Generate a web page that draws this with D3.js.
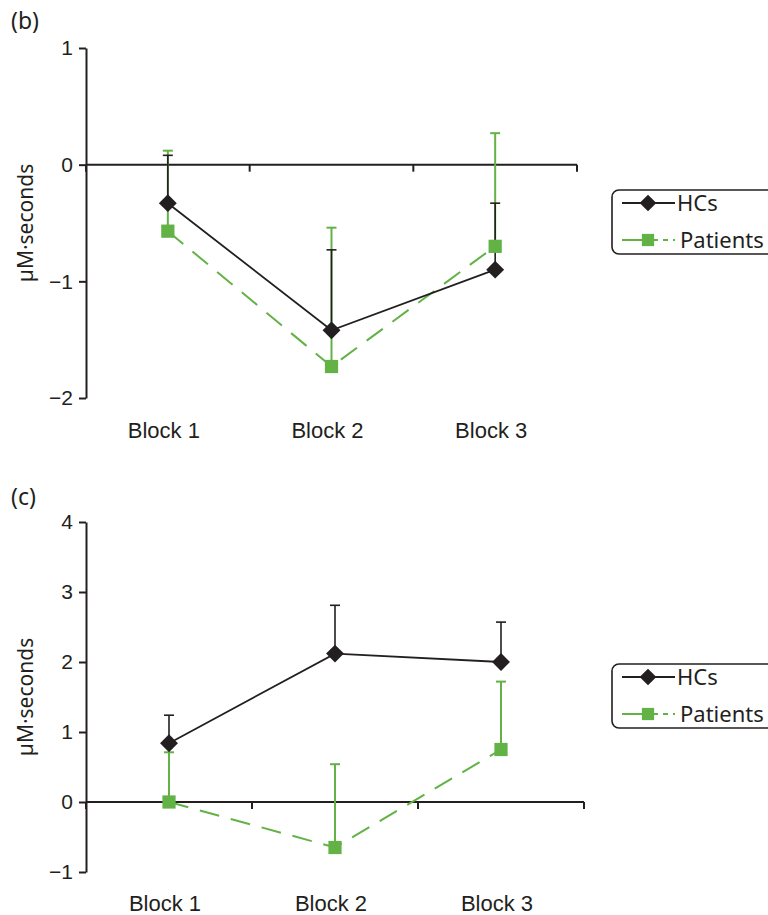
<!DOCTYPE html>
<html>
<head>
<meta charset="utf-8">
<script src="https://cdn.jsdelivr.net/npm/d3@7"></script>
<style>
  body { margin: 0; background: #fff; }
  svg { display: block; font-family: "Noto Sans", "Open Sans", sans-serif; }
</style>
</head>
<body>
<script>
// data
var blocks = ["Block 1", "Block 2", "Block 3"];
var seriesNames = ["HCs", "Patients"];

var hcsB = [-0.33, -1.42, -0.90];
var hcsBUpper = [0.08, -0.73, -0.33];
var patB = [-0.57, -1.73, -0.70];
var patBUpper = [0.12, -0.54, 0.27];
var ticksB = [-2, -1, 0, 1];

var hcsC = [0.84, 2.12, 2.00];
var hcsCUpper = [1.24, 2.81, 2.57];
var patC = [0.00, -0.65, 0.75];
var patCUpper = [0.71, 0.54, 1.72];
var ticksC = [-1, 0, 1, 2, 3, 4];

var black = "#231f20", green = "#62b246";
var fs = 21;

var svg = d3.select("body").append("svg").attr("width", 768).attr("height", 915);

function panel(opt) {
  var x = d3.scaleBand().domain(blocks).range([86, opt.xEnd]).padding(0);
  var y = d3.scaleLinear().domain(d3.extent(opt.ticks)).range([opt.yBottom, opt.yTop]);
  var g = svg.append("g");

  g.append("text").attr("x", 11).attr("y", opt.labelY).attr("font-size", 23).attr("fill", black).text(opt.label);

  // y axis
  var ya = g.append("g").attr("transform", "translate(86,0)")
    .call(d3.axisLeft(y).tickValues(opt.ticks).tickFormat(d3.format("d"))
      .tickSize(7).tickSizeOuter(0).tickPadding(6));
  ya.select(".domain").attr("stroke", black).attr("stroke-width", 2);
  ya.selectAll(".tick line").attr("stroke", black).attr("stroke-width", 2);
  ya.selectAll(".tick text").attr("font-size", fs).attr("fill", black).attr("font-family", null);

  // zero line with ticks at block boundaries
  g.append("line").attr("x1", 86).attr("x2", opt.xEnd).attr("y1", y(0)).attr("y2", y(0))
    .attr("stroke", black).attr("stroke-width", 2);
  var bounds = blocks.map(function (b) { return x(b); }).concat([opt.xEnd]);
  g.selectAll(".bt").data(bounds).enter().append("line")
    .attr("x1", function (d) { return d; }).attr("x2", function (d) { return d; })
    .attr("y1", y(0)).attr("y2", y(0) + 7).attr("stroke", black).attr("stroke-width", 2);

  // category labels
  var xa = g.append("g").attr("transform", "translate(-4," + opt.catY + ")")
    .call(d3.axisBottom(x).tickSize(0).tickPadding(0));
  xa.select(".domain").remove();
  xa.selectAll(".tick text").attr("font-size", fs + 1).attr("fill", black).attr("font-family", null);

  // y label
  g.append("text")
    .attr("transform", "translate(33," + ((opt.yTop + opt.yBottom) / 2 + 0) + ") rotate(-90)")
    .attr("text-anchor", "middle").attr("font-size", fs).attr("fill", black).text("µM·seconds");

  var cx = function (i) { return x(blocks[i]) + x.bandwidth() / 2; };

  var series = [
    { name: seriesNames[1], vals: opt.pat, upper: opt.patUpper, color: green, dash: "20,12", w: 2, errW: 2 },
    { name: seriesNames[0], vals: opt.hcs, upper: opt.hcsUpper, color: black, dash: null, w: 1.8, errW: 1.6 }
  ];

  // error bars (upper only)
  series.forEach(function (s) {
    var eb = g.append("g");
    s.vals.forEach(function (v, i) {
      eb.append("line").attr("x1", cx(i)).attr("x2", cx(i)).attr("y1", y(v)).attr("y2", y(s.upper[i]))
        .attr("stroke", s.color).attr("stroke-width", s.errW);
      eb.append("line").attr("x1", cx(i) - 5).attr("x2", cx(i) + 5).attr("y1", y(s.upper[i])).attr("y2", y(s.upper[i]))
        .attr("stroke", s.color).attr("stroke-width", s.errW);
    });
  });

  var line = d3.line().x(function (d, i) { return cx(i); }).y(function (d) { return y(d); });
  series.forEach(function (s) {
    g.append("path").datum(s.vals).attr("d", line).attr("fill", "none")
      .attr("stroke", s.color).attr("stroke-width", s.w).attr("stroke-dasharray", s.dash);
  });

  // markers
  var diamond = d3.symbol().type(d3.symbolSquare).size(160);
  var square = d3.symbol().type(d3.symbolSquare).size(175);
  opt.pat.forEach(function (v, i) {
    g.append("path").attr("d", square()).attr("fill", green)
      .attr("transform", "translate(" + cx(i) + "," + y(v) + ")");
  });
  opt.hcs.forEach(function (v, i) {
    g.append("path").attr("d", diamond()).attr("fill", black)
      .attr("transform", "translate(" + cx(i) + "," + y(v) + ") rotate(45)");
  });

  // legend
  var lg = g.append("g").attr("transform", "translate(612," + opt.legY + ")");
  lg.append("rect").attr("x", 0).attr("y", 0).attr("width", 200).attr("height", opt.legH).attr("rx", 7)
    .attr("fill", "#fff").attr("stroke", black).attr("stroke-width", 1.6);
  var rows = [
    { name: seriesNames[0], color: black, dash: null, yy: 13 },
    { name: seriesNames[1], color: green, dash: "36,5,5,5,5", yy: 50 }
  ];
  rows.forEach(function (r, k) {
    lg.append("line").attr("x1", 10).attr("x2", 63).attr("y1", r.yy).attr("y2", r.yy)
      .attr("stroke", r.color).attr("stroke-width", 2).attr("stroke-dasharray", r.dash);
    if (k === 0) {
      lg.append("path").attr("d", d3.symbol().type(d3.symbolSquare).size(140)()).attr("fill", black)
        .attr("transform", "translate(36," + r.yy + ") rotate(45)");
    } else {
      lg.append("path").attr("d", d3.symbol().type(d3.symbolSquare).size(150)()).attr("fill", green)
        .attr("transform", "translate(36," + r.yy + ")");
    }
    lg.append("text").attr("x", k === 0 ? 65 : 68).attr("y", r.yy).attr("dy", "0.36em")
      .attr("font-size", fs + 1).attr("fill", black).text(r.name);
  });
}

panel({ label: "(b)", labelY: 29, ticks: ticksB, yTop: 48, yBottom: 398, xEnd: 577, catY: 422,
  hcs: hcsB, hcsUpper: hcsBUpper, pat: patB, patUpper: patBUpper, legY: 190, legH: 64 });

panel({ label: "(c)", labelY: 505, ticks: ticksC, yTop: 522, yBottom: 872, xEnd: 584, catY: 895,
  hcs: hcsC, hcsUpper: hcsCUpper, pat: patC, patUpper: patCUpper, legY: 664, legH: 64 });
</script>
</body>
</html>
